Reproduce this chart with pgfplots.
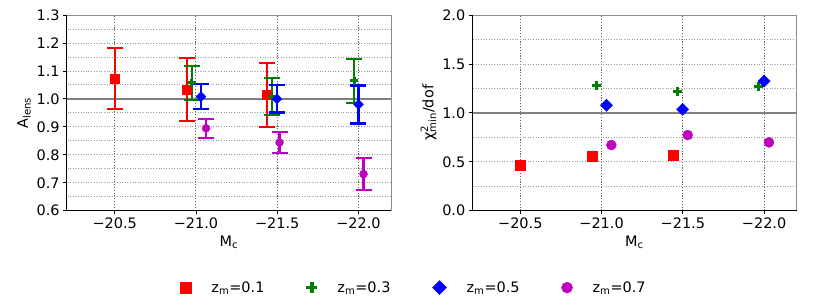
\documentclass[border=0pt]{standalone}
\usepackage{fontspec}
\setmainfont{DejaVu Sans}
\usepackage{pgfplots}
\pgfplotsset{compat=1.18}
\definecolor{mgreen}{rgb}{0,0.5,0}
\definecolor{mmag}{rgb}{0.75,0,0.75}
\newcommand{\fs}{\fontsize{14.5}{17}\selectfont}
\pgfplotsset{common/.style={
  scale only axis, width=324.3bp, height=195.7bp,
  x dir=reverse, xmin=-22.2, xmax=-20.2045,
  xtick={-20.5,-21,-21.5,-22},
  xticklabels={−20.5,−21.0,−21.5,−22.0},
  tick label style={font=\fs},
  label style={font=\fs},
  xlabel={M\textsubscript{c}},
  xtick pos=bottom, ytick pos=left,
  tick align=outside, major tick length=3.5bp, minor tick length=0pt,
  tick style={black, line width=0.8bp},
  axis line style={black!45, line width=0.8bp},
  xmajorgrids, ymajorgrids, yminorgrids, minor y tick num=1,
  x grid style={black!60, line width=1bp, dash pattern=on 1.2bp off 1.6bp},
  y grid style={black!40, line width=0.8bp, dash pattern=on 1bp off 1.6bp},
  minor y grid style={black!40, line width=0.8bp, dash pattern=on 1bp off 1.6bp},
  yticklabel style={/pgf/number format/.cd, fixed, fixed zerofill, precision=1, assume math mode=true},
  clip=false,
}}
\pgfplotsset{eb/.style={only marks, forget plot,
  error bars/y dir=both, error bars/y explicit,
  error bars/error mark=-,
  error bars/error bar style={line width=2.2bp, color=#1},
  error bars/error mark options={line width=2.2bp, mark size=8bp, color=#1, rotate=90}}}
\begin{document}
\begin{tikzpicture}
\useasboundingbox (0,0) rectangle (830bp,302bp);
% ---------- left panel ----------
\begin{axis}[common, at={(66.7bp,91.3bp)}, anchor=south west,
  ymin=0.6, ymax=1.3, ytick={0.6,0.7,...,1.31},
  ylabel={A\textsubscript{lens}}, ylabel style={yshift=-1bp},
  legend columns=4,
  legend style={at={(1.071,-0.393)}, anchor=center, draw=none, fill=none, font=\fs,
    /tikz/every odd column/.append style={column sep=18bp},
    /tikz/every even column/.append style={column sep=40bp}},
]
\addplot[gray, line width=1.6bp, forget plot] coordinates {(-20.2045,1) (-22.2,1)};
\addplot[eb=red, red, mark=square*, mark size=4.3bp] coordinates {
  (-20.5,1.073) +- (0,0.110)
  (-20.943,1.033) +- (0,0.112)
  (-21.436,1.014) +- (0,0.114)};
\addplot[eb=mgreen, mgreen, mark=+, mark size=3.9bp, mark options={line width=2.7bp}] coordinates {
  (-20.974,1.058) +- (0,0.061)
  (-21.467,1.008) +- (0,0.066)
  (-21.974,1.065) +- (0,0.079)};
\addplot[eb=blue, blue, mark=square*, mark size=3.5bp, mark options={rotate=45}] coordinates {
  (-21.031,1.008) +- (0,0.044)
  (-21.499,1.000) +- (0,0.049)
  (-22.0,0.980) +- (0,0.068)};
\addplot[eb=mmag, mmag, mark=*, mark size=4bp] coordinates {
  (-21.062,0.895) +- (0,0.034)
  (-21.514,0.844) +- (0,0.038)
  (-22.031,0.731) +- (0,0.057)};
\draw[black, line width=0.8bp] (rel axis cs:0,1) -- (rel axis cs:0,0) -- (rel axis cs:1,0);
\addlegendimage{only marks, mark=square*, red, mark size=5.5bp}
\addlegendentry{z\textsubscript{m}=0.1}
\addlegendimage{only marks, mark=+, mgreen, mark size=5.5bp, mark options={line width=3.3bp}}
\addlegendentry{z\textsubscript{m}=0.3}
\addlegendimage{only marks, mark=square*, blue, mark size=5bp, mark options={rotate=45}}
\addlegendentry{z\textsubscript{m}=0.5}
\addlegendimage{only marks, mark=*, mmag, mark size=5.5bp}
\addlegendentry{z\textsubscript{m}=0.7}
\end{axis}
% ---------- right panel ----------
\begin{axis}[common, at={(472.3bp,91.3bp)}, anchor=south west,
  ymin=0, ymax=2.0, ytick={0,0.5,...,2.01},
  ylabel={χ\rlap{\textsuperscript{2}}\textsubscript{min}/dof}, ylabel style={yshift=-1bp},
]
\addplot[gray, line width=1.6bp, forget plot] coordinates {(-20.2045,1) (-22.2,1)};
\addplot[only marks, red, mark=square*, mark size=5bp] coordinates {
  (-20.5,0.467) (-20.941,0.559) (-21.44,0.569)};
\addplot[only marks, mgreen, mark=+, mark size=4.5bp, mark options={line width=3bp}] coordinates {
  (-20.968,1.284) (-21.47,1.223) (-21.963,1.274)};
\addplot[only marks, blue, mark=square*, mark size=4.3bp, mark options={rotate=45}] coordinates {
  (-21.03,1.077) (-21.499,1.036) (-22.0,1.325)};
\addplot[only marks, mmag, mark=*, mark size=5bp] coordinates {
  (-21.06,0.671) (-21.53,0.773) (-22.03,0.698)};
\draw[black, line width=0.8bp] (rel axis cs:0,1) -- (rel axis cs:0,0) -- (rel axis cs:1,0);
\end{axis}
\end{tikzpicture}
\end{document}
